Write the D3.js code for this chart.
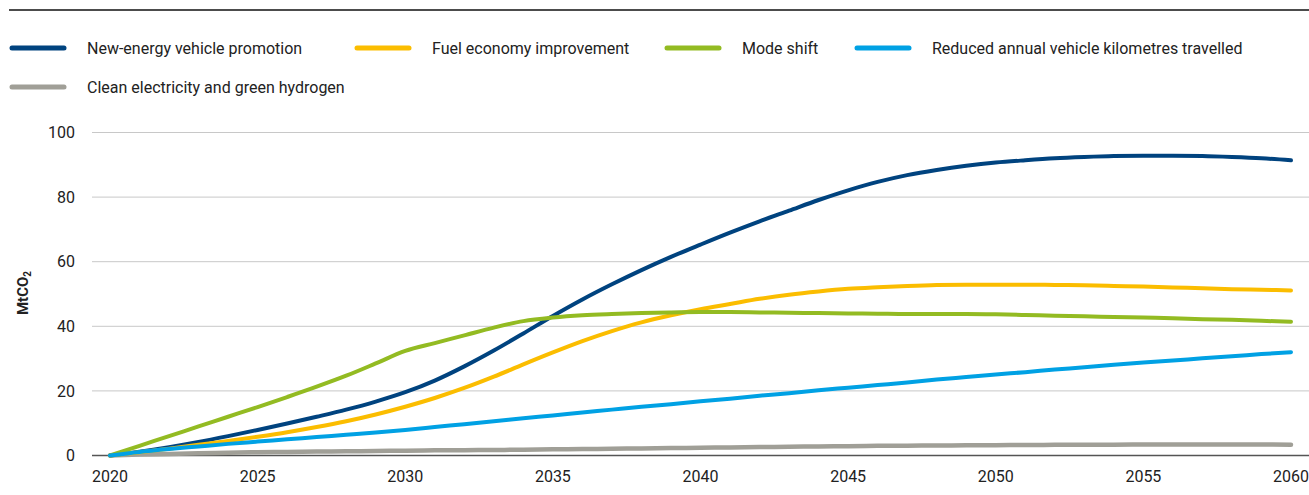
<!DOCTYPE html>
<html>
<head>
<meta charset="utf-8">
<script src="https://cdn.jsdelivr.net/npm/d3@7"></script>
<style>
  body { margin: 0; background: #fff; }
  text { font-family: Roboto, "Liberation Sans", sans-serif; fill: #222; }
</style>
</head>
<body>
<div id="chart"></div>
<script>
// Data (annual, MtCO2)
var years = d3.range(2020, 2061);
var nev = [0, 1.2, 2.6, 4.2, 6.0, 7.9, 9.9, 12.0, 14.2, 16.7,
    19.6, 23.2, 27.6, 32.5, 37.8, 43.2, 48.3, 53.0, 57.4, 61.5,
    65.3, 69.0, 72.5, 75.8, 79.1, 82.1, 84.7, 86.8, 88.4, 89.7,
    90.7, 91.4, 92.0, 92.4, 92.7, 92.8, 92.8, 92.7, 92.4, 92.0, 91.4];
var fuel = [0, 1.0, 2.1, 3.3, 4.5, 5.8, 7.2, 8.8, 10.6, 12.7,
    15.1, 17.8, 20.9, 24.4, 28.2, 31.9, 35.4, 38.5, 41.2, 43.4,
    45.3, 46.9, 48.5, 49.8, 50.8, 51.6, 52.1, 52.5, 52.8, 52.9,
    52.9, 52.9, 52.8, 52.7, 52.5, 52.3, 52.0, 51.8, 51.5, 51.3, 51.1];
var modeShift = [0, 3.0, 6.0, 9.0, 12.0, 15.0, 18.1, 21.3, 24.7, 28.5,
    32.4, 34.8, 37.2, 39.6, 41.6, 42.7, 43.4, 43.8, 44.1, 44.3,
    44.4, 44.4, 44.3, 44.2, 44.1, 44.0, 43.9, 43.8, 43.8, 43.8,
    43.7, 43.5, 43.3, 43.1, 42.9, 42.7, 42.5, 42.2, 42.0, 41.7, 41.4];
var reducedVkt = [0, 1.1, 2.0, 2.8, 3.6, 4.3, 5.0, 5.7, 6.4, 7.1,
    7.9, 8.8, 9.7, 10.6, 11.5, 12.4, 13.3, 14.2, 15.1, 15.9,
    16.8, 17.6, 18.5, 19.3, 20.2, 21.0, 21.8, 22.6, 23.5, 24.3,
    25.1, 25.8, 26.6, 27.3, 28.1, 28.8, 29.4, 30.1, 30.7, 31.4, 32.0];
var cleanElec = [0, 0.3, 0.5, 0.7, 0.85, 1.0, 1.1, 1.2, 1.3, 1.4,
    1.5, 1.6, 1.65, 1.7, 1.8, 1.9, 2.0, 2.1, 2.2, 2.3,
    2.4, 2.5, 2.6, 2.7, 2.8, 2.9, 3.0, 3.05, 3.1, 3.15,
    3.2, 3.25, 3.3, 3.3, 3.35, 3.4, 3.4, 3.4, 3.4, 3.4, 3.35];
var yTicks = [0, 20, 40, 60, 80, 100];
var xTicks = [2020, 2025, 2030, 2035, 2040, 2045, 2050, 2055, 2060];

var seriesNames = ["New-energy vehicle promotion", "Fuel economy improvement", "Mode shift",
    "Reduced annual vehicle kilometres travelled", "Clean electricity and green hydrogen"];
var seriesValues = [nev, fuel, modeShift, reducedVkt, cleanElec];
var seriesColors = ["#00437f", "#fbbd00", "#93bb22", "#00a1e4", "#a09f97"];

var width = 1309;
var height = 495;

var svg = d3.select("#chart")
    .append("svg")
    .attr("width", width)
    .attr("height", height);

// top rule
svg.append("line")
    .attr("x1", 9).attr("x2", width)
    .attr("y1", 10).attr("y2", 10)
    .style("stroke", "#111")
    .style("stroke-width", 1.5);

// legend
var legendPos = [[10, 48], [355, 48], [665, 48], [855, 48], [10, 87]];
var legend = svg.selectAll(".legend")
    .data(seriesNames)
    .enter()
    .append("g")
    .attr("transform", function(d, i) { return "translate(" + legendPos[i][0] + "," + legendPos[i][1] + ")"; });
legend.append("line")
    .attr("x1", 2).attr("x2", 54)
    .style("stroke", function(d, i) { return seriesColors[i]; })
    .style("stroke-width", 5)
    .style("stroke-linecap", "round");
legend.append("text")
    .attr("x", 77)
    .attr("dy", "0.35em")
    .style("font-size", "16px")
    .text(function(d) { return d; });

// scales
var x = d3.scaleLinear()
    .domain([2020, 2060])
    .range([110, 1291]);
var y = d3.scaleLinear()
    .domain([0, 100])
    .range([455.5, 132.5]);

// gridlines
svg.selectAll(".grid")
    .data(yTicks)
    .enter()
    .append("line")
    .attr("x1", 92).attr("x2", width)
    .attr("y1", function(d) { return y(d); })
    .attr("y2", function(d) { return y(d); })
    .style("stroke", function(d) { return d === 0 ? "#555" : "#c8c8c8"; })
    .style("stroke-width", function(d) { return d === 0 ? 1.5 : 1; });

// y tick labels
svg.selectAll(".ylab")
    .data(yTicks)
    .enter()
    .append("text")
    .attr("x", 75)
    .attr("y", function(d) { return y(d); })
    .attr("dy", "0.35em")
    .attr("text-anchor", "end")
    .style("font-size", "16px")
    .text(function(d) { return d; });

// x tick labels
svg.selectAll(".xlab")
    .data(xTicks)
    .enter()
    .append("text")
    .attr("x", function(d) { return x(d); })
    .attr("y", 482)
    .attr("text-anchor", "middle")
    .style("font-size", "16px")
    .text(function(d) { return d; });

// y axis title
var yTitle = svg.append("text")
    .attr("transform", "translate(28,293) rotate(-90)")
    .attr("text-anchor", "middle")
    .style("font-size", "15px")
    .style("font-weight", "bold");
yTitle.append("tspan").text("MtCO");
yTitle.append("tspan").attr("dy", 3).style("font-size", "10px").text("2");

// lines
var line = d3.line()
    .x(function(d, i) { return x(years[i]); })
    .y(function(d) { return y(d); })
    .curve(d3.curveMonotoneX);

var drawOrder = [4, 0, 1, 2, 3];
svg.selectAll(".series")
    .data(drawOrder)
    .enter()
    .append("path")
    .attr("d", function(k) { return line(seriesValues[k]); })
    .style("fill", "none")
    .style("stroke", function(k) { return seriesColors[k]; })
    .style("stroke-width", function(k) { return k === 4 ? 4.5 : 4; })
    .style("stroke-linecap", "round");
</script>
</body>
</html>
